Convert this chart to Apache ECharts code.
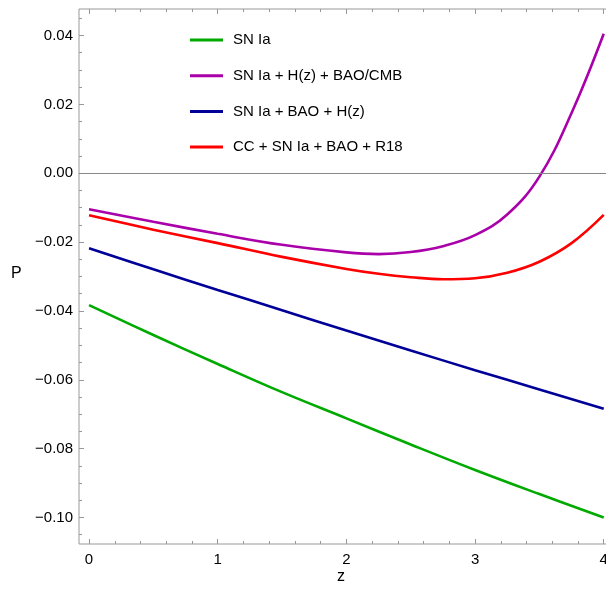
<!DOCTYPE html>
<html>
<head>
<meta charset="utf-8">
<script src="https://cdn.jsdelivr.net/npm/echarts@6/dist/echarts.min.js"></script>
<style>
  html, body { margin: 0; padding: 0; background: #fff; }
  #chart { width: 606px; height: 594px; }
</style>
</head>
<body>
<div id="chart"></div>
<script>
// 数据
var seriesNames = ['SN Ia', 'SN Ia + H(z) + BAO/CMB', 'SN Ia + BAO + H(z)', 'CC + SN Ia + BAO + R18'];
var seriesColors = ['#00aa00', '#aa00aa', '#000099', '#ff0000'];

var zCoarse = [0, 0.5, 1, 1.5, 2, 2.5, 3, 3.5, 4];
var zFine = [0, 0.5, 1, 1.5, 2, 2.25, 2.5, 2.75, 3, 3.25, 3.5, 3.75, 4];

var snIa = [-0.0383, -0.0470, -0.0554, -0.0636, -0.0712, -0.0788, -0.0862, -0.0932, -0.1000];
var snHzBaoCmb = [-0.01045, -0.0141, -0.0176, -0.0208, -0.0230, -0.0235, -0.0229, -0.0212, -0.0180, -0.0120, -0.0010, 0.0175, 0.0405];
var snBaoHz = [-0.0218, -0.0279, -0.0339, -0.0398, -0.0457, -0.0515, -0.0572, -0.0628, -0.0684];
var ccSnBaoR18 = [-0.0122, -0.0164, -0.0203, -0.0243, -0.0278, -0.0292, -0.0302, -0.0308, -0.0305, -0.0289, -0.0257, -0.0203, -0.0121];

var xMajor = [0, 1, 2, 3, 4];
var yMajor = [-0.10, -0.08, -0.06, -0.04, -0.02, 0.00, 0.02, 0.04];

var xMin = -0.078, xMax = 4.041;
var yMin = -0.1077, yMax = 0.0477;

function pairs(xs, ys) {
    return xs.map(function (x, i) { return [x, ys[i]]; });
}

// 次刻度位置
function minorTicks(major, step, lo, hi) {
    var out = [];
    var start = major[0] - step * 10;
    for (var v = start; v <= hi + 1e-9; v += step) {
        var r = Math.round(v * 10000) / 10000;
        if (r < lo || r > hi) continue;
        var isMajor = major.some(function (m) { return Math.abs(m - r) < 1e-9; });
        if (!isMajor) out.push(r);
    }
    return out;
}
var xMinor = minorTicks(xMajor, 0.2, 0, xMax);
var yMinor = minorTicks(yMajor, 0.005, yMin, yMax);

var FONT = '"Liberation Sans", Arial, sans-serif';
var FRAME = '#999999';

function xAxisDef(pos, ticks, len, labels) {
    return {
        type: 'value', position: pos, min: xMin, max: xMax,
        axisLine: { show: false, onZero: false },
        splitLine: { show: false },
        axisTick: { show: true, inside: true, length: len, customValues: ticks,
            lineStyle: { color: FRAME, width: 1 } },
        axisLabel: labels ? {
            show: true, customValues: ticks, margin: 8,
            color: '#000', fontSize: 15, fontFamily: FONT,
            formatter: function (v) { return String(Math.round(v)); }
        } : { show: false }
    };
}

function yAxisDef(ticks, len, labels) {
    return {
        type: 'value', position: 'left', min: yMin, max: yMax,
        axisLine: { show: false, onZero: false },
        splitLine: { show: false },
        axisTick: { show: true, inside: true, length: len, customValues: ticks,
            lineStyle: { color: FRAME, width: 1 } },
        axisLabel: labels ? {
            show: true, customValues: ticks, margin: 6,
            color: '#000', fontSize: 15, fontFamily: FONT,
            formatter: function (v) { return v.toFixed(2).replace('-', '\u2212'); }
        } : { show: false }
    };
}

var chart = echarts.init(document.getElementById('chart'));

var option = {
    animation: false,
    backgroundColor: '#fff',
    grid: {
        left: 79, top: 9, bottom: 50, right: -3,
        outerBoundsMode: 'none',
        show: true, borderColor: FRAME, borderWidth: 1, backgroundColor: 'transparent'
    },
    legend: {
        orient: 'vertical', left: 190, top: 30, padding: 0,
        icon: 'rect', itemWidth: 33, itemHeight: 3, itemGap: 15.7,
        data: seriesNames,
        textStyle: { color: '#000', fontSize: 15, fontFamily: FONT, lineHeight: 20, padding: [0, 0, 0, 5] }
    },
    xAxis: [
        xAxisDef('bottom', xMajor, 5, true),
        xAxisDef('bottom', xMinor, 3, false),
        xAxisDef('top', xMajor, 5, false),
        xAxisDef('top', xMinor, 3, false)
    ],
    yAxis: [
        yAxisDef(yMajor, 5, true),
        yAxisDef(yMinor, 3, false)
    ],
    graphic: [
        { type: 'text', left: 11, top: 266, style: { text: 'P', fontSize: 16, fontFamily: FONT, fill: '#000' } },
        { type: 'text', left: 337, top: 569, style: { text: 'z', fontSize: 16, fontFamily: FONT, fill: '#000' } }
    ],
    series: [
        {
            name: seriesNames[0], type: 'line', data: pairs(zCoarse, snIa),
            smooth: 0.4, showSymbol: false, color: seriesColors[0], lineStyle: { width: 2.6 },
            markLine: {
                silent: true, symbol: 'none', label: { show: false },
                lineStyle: { color: '#888', width: 1, type: 'solid' },
                data: [{ yAxis: 0 }]
            }
        },
        {
            name: seriesNames[1], type: 'line', data: pairs(zFine, snHzBaoCmb),
            smooth: 0.4, showSymbol: false, color: seriesColors[1], lineStyle: { width: 2.6 }
        },
        {
            name: seriesNames[2], type: 'line', data: pairs(zCoarse, snBaoHz),
            smooth: 0.4, showSymbol: false, color: seriesColors[2], lineStyle: { width: 2.6 }
        },
        {
            name: seriesNames[3], type: 'line', data: pairs(zFine, ccSnBaoR18),
            smooth: 0.4, showSymbol: false, color: seriesColors[3], lineStyle: { width: 2.6 }
        }
    ]
};

chart.setOption(option);
</script>
</body>
</html>
